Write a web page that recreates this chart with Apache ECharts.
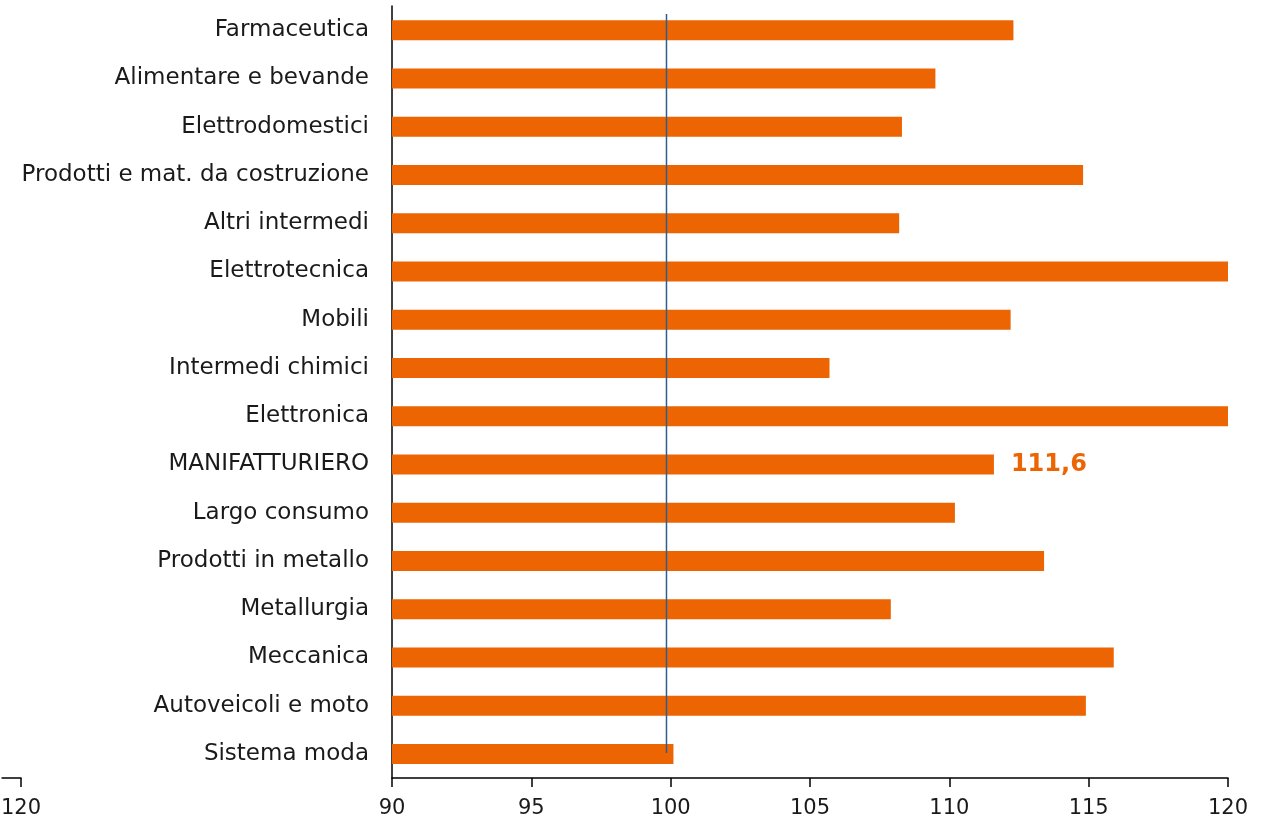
<!DOCTYPE html>
<html>
<head>
<meta charset="utf-8">
<script src="https://cdn.jsdelivr.net/npm/echarts@6/dist/echarts.min.js"></script>
<style>
  html, body { margin: 0; padding: 0; background: #ffffff; }
  #chart { width: 1281px; height: 822px; }
</style>
</head>
<body>
<div id="chart"></div>
<script>
// Sectors, top to bottom
const categories = [
  'Farmaceutica',
  'Alimentare e bevande',
  'Elettrodomestici',
  'Prodotti e mat. da costruzione',
  'Altri intermedi',
  'Elettrotecnica',
  'Mobili',
  'Intermedi chimici',
  'Elettronica',
  'MANIFATTURIERO',
  'Largo consumo',
  'Prodotti in metallo',
  'Metallurgia',
  'Meccanica',
  'Autoveicoli e moto',
  'Sistema moda'
];

// Index values per sector (bars beyond 120 are cut at the axis end)
const indexValues = [
  112.3, 109.5, 108.3, 114.8, 108.2, 121.5, 112.2, 105.7,
  122.0, 111.6, 110.2, 113.4, 107.9, 115.9, 114.9, 100.1
];

// Value axis scale
const axisMin = 90;
const axisMax = 120;
const axisStep = 5;

// Secondary axis stub at the lower left: only its end value is shown
const stubMin = 115;
const stubTicks = [120];

// Reference line position
const referenceValue = 99.85;

// Sector whose value is written next to its bar
const highlighted = 'MANIFATTURIERO';

const FONT = 'DejaVu Sans';
const TEXT = '#1a1a1a';
const ORANGE = '#EC6502';

const fmt = v => v.toFixed(1).replace('.', ',');

const barData = indexValues.map((v, i) => {
  if (categories[i] !== highlighted) return v;
  return {
    value: v,
    label: {
      show: true,
      position: 'right',
      distance: 17,
      formatter: p => fmt(p.value),
      fontFamily: FONT,
      fontWeight: 'bold',
      fontSize: 24,
      color: ORANGE
    }
  };
});

const axisLineStyle = { color: '#000000', width: 1.5 };

const chart = echarts.init(document.getElementById('chart'), null, { renderer: 'canvas' });

chart.setOption({
  animation: false,
  backgroundColor: '#ffffff',
  grid: [
    { left: 392, right: 53, top: 6, bottom: 44 },
    { left: 0, width: 21, top: 6, bottom: 44 },
    { left: 392, right: 53, top: 14, bottom: 69 }
  ],
  xAxis: [
    {
      gridIndex: 0,
      type: 'value',
      min: axisMin, max: axisMax, interval: axisStep,
      axisLine: { show: true, lineStyle: axisLineStyle },
      axisTick: { show: true, length: 9, lineStyle: axisLineStyle },
      splitLine: { show: false },
      axisLabel: { fontFamily: FONT, fontSize: 21, color: TEXT, margin: 20 }
    },
    {
      gridIndex: 1,
      type: 'value',
      min: stubMin, max: axisMax, interval: axisStep,
      axisLine: { show: true, lineStyle: axisLineStyle },
      axisTick: { show: true, length: 9, lineStyle: axisLineStyle, customValues: stubTicks },
      splitLine: { show: false },
      axisLabel: { fontFamily: FONT, fontSize: 21, color: TEXT, margin: 20, customValues: stubTicks }
    },
    {
      gridIndex: 2,
      type: 'value',
      min: axisMin, max: axisMax,
      show: false
    }
  ],
  yAxis: [
    {
      gridIndex: 0,
      type: 'category',
      inverse: true,
      data: categories,
      axisLine: { show: true, lineStyle: axisLineStyle },
      axisTick: { show: false },
      axisLabel: { fontFamily: FONT, fontSize: 23, color: TEXT, margin: 23 }
    },
    { gridIndex: 1, type: 'value', show: false },
    { gridIndex: 2, type: 'value', min: 0, max: 1, show: false }
  ],
  series: [
    {
      type: 'bar',
      xAxisIndex: 0,
      yAxisIndex: 0,
      data: barData,
      barWidth: 20,
      clip: true,
      itemStyle: { color: ORANGE },
      z: 2
    },
    {
      type: 'line',
      xAxisIndex: 2,
      yAxisIndex: 2,
      data: [[referenceValue, 0], [referenceValue, 1]],
      symbol: 'none',
      lineStyle: { color: '#2F5D8C', width: 1.5 },
      z: 5
    }
  ]
});
</script>
</body>
</html>
